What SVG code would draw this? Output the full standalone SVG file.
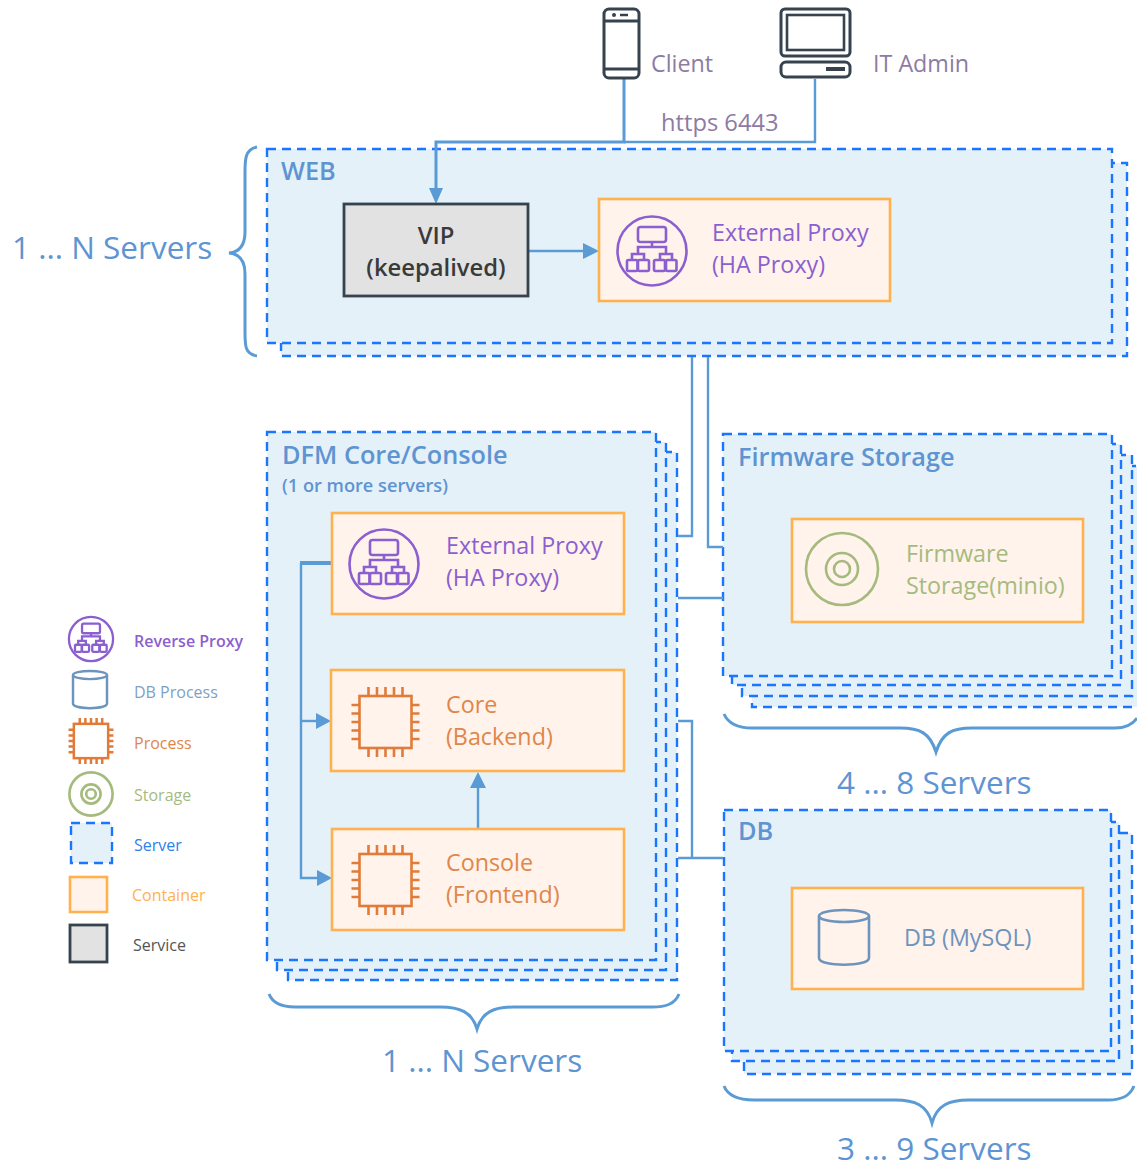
<svg xmlns="http://www.w3.org/2000/svg" xmlns:xlink="http://www.w3.org/1999/xlink" width="1137" height="1169" viewBox="0 0 1137 1169">
<style>
text{font-family:"Open Sans","Noto Sans","Liberation Sans",sans-serif}
.srv{fill:#e4f1f8;stroke:#1a75ff;stroke-width:2.4;stroke-dasharray:9 6}
.box{fill:#fff3eb;stroke:#ffb14e;stroke-width:2.6}
.con{fill:none;stroke:#5b9bd5;stroke-width:2.4}
.brace{fill:none;stroke:#5b9bd5;stroke-width:3}
.count{font-size:31.500px;fill:#5f94d2}
.title{font-size:25.300px;font-weight:600;fill:#5f94d2}
.lab{font-size:23.300px}
.leg{font-size:16px}
.ar{fill:#5b9bd5}
</style>
<defs>
<g id="rp" fill="none" stroke="#8c5fd0">
<circle cx="0" cy="0" r="34.500"/>
<rect x="-14" y="-24" width="28" height="15" rx="2.500"/>
<path d="M0-9V-4M-14 3V-4H14V3M-20 9V3H-8V9M8 9V3H20V9"/>
<rect x="-25" y="9" width="10.500" height="11" rx="1.500"/>
<rect x="-14" y="9" width="11" height="11" rx="1.500"/>
<rect x="2" y="9" width="11" height="11" rx="1.500"/>
<rect x="14" y="9" width="10.500" height="11" rx="1.500"/>
</g>
<g id="chip" fill="none" stroke="#e07b39">
<rect x="-26" y="-26" width="52" height="52"/>
<path d="M-17-26V-35M-8.500-26V-35M0-26V-35M8.500-26V-35M17-26V-35M-17 26V35M-8.500 26V35M0 26V35M8.500 26V35M17 26V35M-26-17H-34M-26-8.500H-34M-26 0H-34M-26 8.500H-34M-26 17H-34M26-17H34M26-8.500H34M26 0H34M26 8.500H34M26 17H34"/>
</g>
<g id="disk" fill="none" stroke="#a5bb7e">
<circle r="36"/><circle r="16"/><circle r="8"/>
</g>
<g id="cyl" fill="none" stroke="#6d94bd">
<ellipse cx="0" cy="-22" rx="25" ry="6"/>
<path d="M-25-22V20C-25 29 25 29 25 20V-22"/>
</g>
</defs>
<rect width="1137" height="1169" fill="#fff"/>

<g id="server-stacks">
<g id="web-stack"><rect class="srv" x="281" y="163" width="846" height="193"/><rect class="srv" x="267" y="149" width="845" height="194"/></g>
<g id="dfm-stack"><rect class="srv" x="288" y="452" width="389" height="528"/><rect class="srv" x="277" y="442" width="389" height="528"/><rect class="srv" x="267" y="432" width="389" height="528"/></g>
<g id="fw-stack"><rect class="srv" x="752" y="466" width="392" height="241"/><rect class="srv" x="742" y="455" width="390" height="241"/><rect class="srv" x="732" y="444" width="389" height="241"/><rect class="srv" x="723" y="434" width="389" height="242"/></g>
<g id="db-stack"><rect class="srv" x="744" y="833" width="388" height="241"/><rect class="srv" x="732" y="822" width="387" height="239"/><rect class="srv" x="724" y="810" width="387" height="241"/></g>
</g>

<g id="connectors">
<path class="con" d="M624 79V142H436V190" style="stroke-width:3"/>
<path class="con" d="M815 79V142H624"/>
<path class="con" d="M528 251H584"/>
<path class="con" d="M692 357V536H678"/>
<path class="con" d="M708 357V547H723"/>
<path class="con" d="M678 598H723"/>
<path class="con" d="M678 721H692V858"/>
<path class="con" d="M678 858H723"/>
<path class="con" d="M301 563V878H318"/>
<path class="con" d="M300 563H332" style="stroke-width:4"/>
<path class="con" d="M301 721H317"/>
<path class="con" d="M478 829V786"/>
<path class="ar" d="M429 188H443L436 204Z"/>
<path class="ar" d="M583 243V259L599 251Z"/>
<path class="ar" d="M316 713V729L331 721Z"/>
<path class="ar" d="M317 870V886L332 878Z"/>
<path class="ar" d="M470 788H486L478 772Z"/>
</g>

<g id="braces">
<path class="brace" d="M257 147C245 149 245 160 245 172V232C245 244 240 252 229 253C240 254 245 262 245 274V332C245 346 245 354 257 356"/>
<path class="brace" d="M269 994C273 1004 282 1007 295 1007H440C460 1007 472 1012 477 1029C482 1012 494 1007 514 1007H652C666 1007 675 1004 679 994"/>
<path class="brace" d="M724 714C728 723 738 728 752 728H900C920 728 930 733 936 752C942 733 952 728 972 728H1115C1125 728 1133 724 1137 718"/>
<path class="brace" d="M724 1086C728 1096 740 1100 754 1100H895C915 1100 927 1105 932 1123C937 1105 949 1100 969 1100H1108C1122 1100 1130 1096 1134 1086"/>
</g>

<g id="client"><g fill="none" stroke="#36434f" stroke-width="3">
<rect x="604" y="9" width="35" height="69" rx="5"/><path d="M604 21H639M604 69H639"/></g>
<circle cx="614" cy="15" r="2" fill="#36434f"/><path d="M620 15H628" stroke="#36434f" stroke-width="2.500"/>
<text class="lab" x="651" y="72" fill="#8d7ba3">Client</text></g>

<g id="it-admin"><g fill="none" stroke="#36434f" stroke-width="3">
<rect x="781" y="9" width="69" height="47" rx="4"/><rect x="787" y="15" width="57" height="35" stroke-width="2.600"/><rect x="781" y="62" width="69" height="15" rx="5"/></g>
<path d="M826 69H845" stroke="#36434f" stroke-width="4"/>
<text class="lab" x="873" y="72" fill="#8d7ba3">IT Admin</text></g>

<text id="https-label" x="661" y="131" font-size="23.700" fill="#8d7ba3">https 6443</text>

<g id="web"><text class="title" x="281" y="180">WEB</text></g>
<g id="vip"><rect x="344" y="204" width="184" height="92" fill="#e2e2e2" stroke="#36434f" stroke-width="2.800"/>
<text x="436" y="244" text-anchor="middle" font-size="23.800" font-weight="600" fill="#3a3a3a">VIP</text>
<text x="436" y="276" text-anchor="middle" font-size="23.800" font-weight="600" fill="#3a3a3a">(keepalived)</text></g>
<g id="ext-proxy-web"><rect class="box" x="599" y="199" width="291" height="102"/><use href="#rp" x="652" y="251" stroke-width="2.600"/>
<text class="lab" x="712" y="241" fill="#8c5fd0">External Proxy</text><text class="lab" x="712" y="273" fill="#8c5fd0">(HA Proxy)</text></g>
<text class="count" x="12" y="259">1 ... N Servers</text>

<g id="dfm"><text class="title" x="282" y="464">DFM Core/Console</text>
<text x="282" y="492" font-size="18.200" font-weight="600" fill="#5f94d2">(1 or more servers)</text></g>
<g id="ext-proxy-dfm"><rect class="box" x="332" y="513" width="292" height="101"/><use href="#rp" x="384" y="564" stroke-width="2.600"/>
<text class="lab" x="446" y="554" fill="#8c5fd0">External Proxy</text><text class="lab" x="446" y="586" fill="#8c5fd0">(HA Proxy)</text></g>
<g id="core"><rect class="box" x="331" y="670" width="293" height="101"/><use href="#chip" x="385.500" y="722" stroke-width="2.600"/>
<text class="lab" x="446" y="713" fill="#e0864a">Core</text><text class="lab" x="446" y="745" fill="#e0864a">(Backend)</text></g>
<g id="console"><rect class="box" x="332" y="829" width="292" height="101"/><use href="#chip" x="385.500" y="880" stroke-width="2.600"/>
<text class="lab" x="446" y="871" fill="#e0864a">Console</text><text class="lab" x="446" y="903" fill="#e0864a">(Frontend)</text></g>
<text class="count" x="382" y="1072">1 ... N Servers</text>

<g id="firmware"><text class="title" x="738" y="466">Firmware Storage</text></g>
<g id="minio"><rect class="box" x="792" y="519" width="291" height="103"/><use href="#disk" x="842" y="569" stroke-width="2.600"/>
<text class="lab" x="906" y="562" fill="#a5bb7e">Firmware</text><text class="lab" x="906" y="594" fill="#a5bb7e">Storage(minio)</text></g>
<text class="count" x="837" y="794">4 ... 8 Servers</text>

<g id="db"><text class="title" x="738" y="840">DB</text></g>
<g id="mysql"><rect class="box" x="792" y="888" width="291" height="101"/><use href="#cyl" x="844" y="938" stroke-width="2.600"/>
<text class="lab" x="904" y="946" fill="#6d94bd">DB (MySQL)</text></g>
<text class="count" x="837" y="1160">3 ... 9 Servers</text>

<g id="legend">
<g id="legend-rp"><use href="#rp" transform="translate(91 639) scale(.64)" stroke-width="3.600"/><text class="leg" x="134" y="647" font-weight="600" fill="#8c5fd0">Reverse Proxy</text></g>
<g id="legend-db"><use href="#cyl" transform="translate(90 690) scale(.68)" stroke-width="3.600"/><text class="leg" x="134" y="698" fill="#7f9fc5">DB Process</text></g>
<g id="legend-process"><use href="#chip" transform="translate(91 741) scale(.66)" stroke-width="3.800"/><text class="leg" x="134" y="749" fill="#e0864a">Process</text></g>
<g id="legend-storage"><use href="#disk" transform="translate(91 794) scale(.6)" stroke-width="4.400"/><text class="leg" x="134" y="801" fill="#a5bb7e">Storage</text></g>
<g id="legend-server"><rect class="srv" x="71" y="823" width="41" height="40"/><text class="leg" x="134" y="851" fill="#2f80ed">Server</text></g>
<g id="legend-container"><rect class="box" x="70" y="877" width="37" height="35"/><text class="leg" x="132" y="901" fill="#ffb14e">Container</text></g>
<g id="legend-service"><rect x="70" y="925" width="37" height="37" fill="#e2e2e2" stroke="#36434f" stroke-width="2.800"/><text class="leg" x="133" y="951" fill="#555">Service</text></g>
</g>
</svg>
